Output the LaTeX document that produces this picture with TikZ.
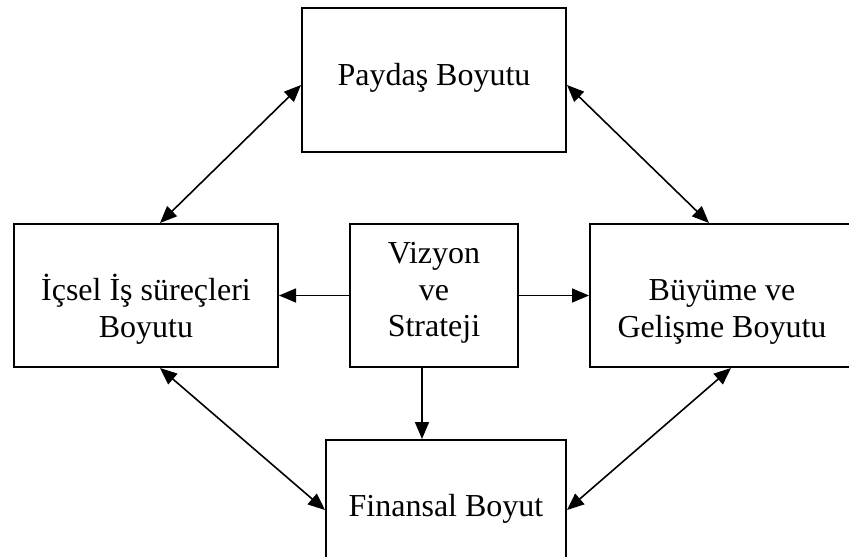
\documentclass[tikz,border=0pt]{standalone}
\usepackage{fontspec}
\setmainfont{Liberation Serif}
\usetikzlibrary{arrows.meta,calc}

\tikzset{
  tip/.style={Triangle[length=17pt,width=14pt]},
  box/.style={draw, line width=2pt, rectangle, inner sep=0pt, fill=white},
  lbl/.style={anchor=base, inner sep=0pt, font=\fontsize{32}{37}\selectfont},
  conn/.style={line width=1.6pt, -{Triangle[length=17pt,width=14pt]}},
  biconn/.style={line width=1.6pt, {Triangle[length=17pt,width=14pt]}-{Triangle[length=17pt,width=14pt]}}
}

\begin{document}
\begin{tikzpicture}[x=1pt,y=-1pt]
  \useasboundingbox[fill=white] (0,0) rectangle (849,557);

  % dimension boxes
  \node[box, minimum width=264pt, minimum height=144pt] (pay) at (434,80) {};
  \node[box, minimum width=264pt, minimum height=143pt] (ic)  at (146,295.5) {};
  \node[box, minimum width=168pt, minimum height=143pt] (viz) at (434,295.5) {};
  \node[box, minimum width=262pt, minimum height=143pt] (buy) at (721,295.5) {};
  \node[box, minimum width=240pt, minimum height=144pt] (fin) at (446,512) {};

  % labels
  \node[lbl] (payt)  at (434,85)    {Paydaş Boyutu};
  \node[lbl] (ict1)  at (146,300.5) {İçsel İş süreçleri};
  \node[lbl] (ict2)  at (146,337.5) {Boyutu};
  \node[lbl] (vizt1) at (434,263)   {Vizyon};
  \node[lbl] (vizt2) at (434,300)   {ve};
  \node[lbl] (vizt3) at (434,336.7) {Strateji};
  \node[lbl] (buyt1) at (722,300)   {Büyüme ve};
  \node[lbl] (buyt2) at (722,337.5) {Gelişme Boyutu};
  \node[lbl] (fint)  at (446,516.7) {Finansal Boyut};

  % connectors
  \draw[biconn] ($(pay.west)+(0,5)$) -- ($(ic.north)+(14,0)$);
  \draw[biconn] ($(pay.east)+(0,5)$) -- ($(buy.north)+(-12,0)$);
  \draw[biconn] ($(ic.south)+(14,0)$) -- ($(fin.west)+(0,-2)$);
  \draw[biconn] ($(buy.south)+(10,0)$) -- ($(fin.east)+(0,-2)$);

  \draw[conn] (viz.west) -- (ic.east);
  \draw[conn] (viz.east) -- (buy.west);
  \coordinate (vf) at ($(viz.south)+(-12,0)$);
  \draw[conn] (vf) -- (vf |- fin.north);
\end{tikzpicture}
\end{document}
